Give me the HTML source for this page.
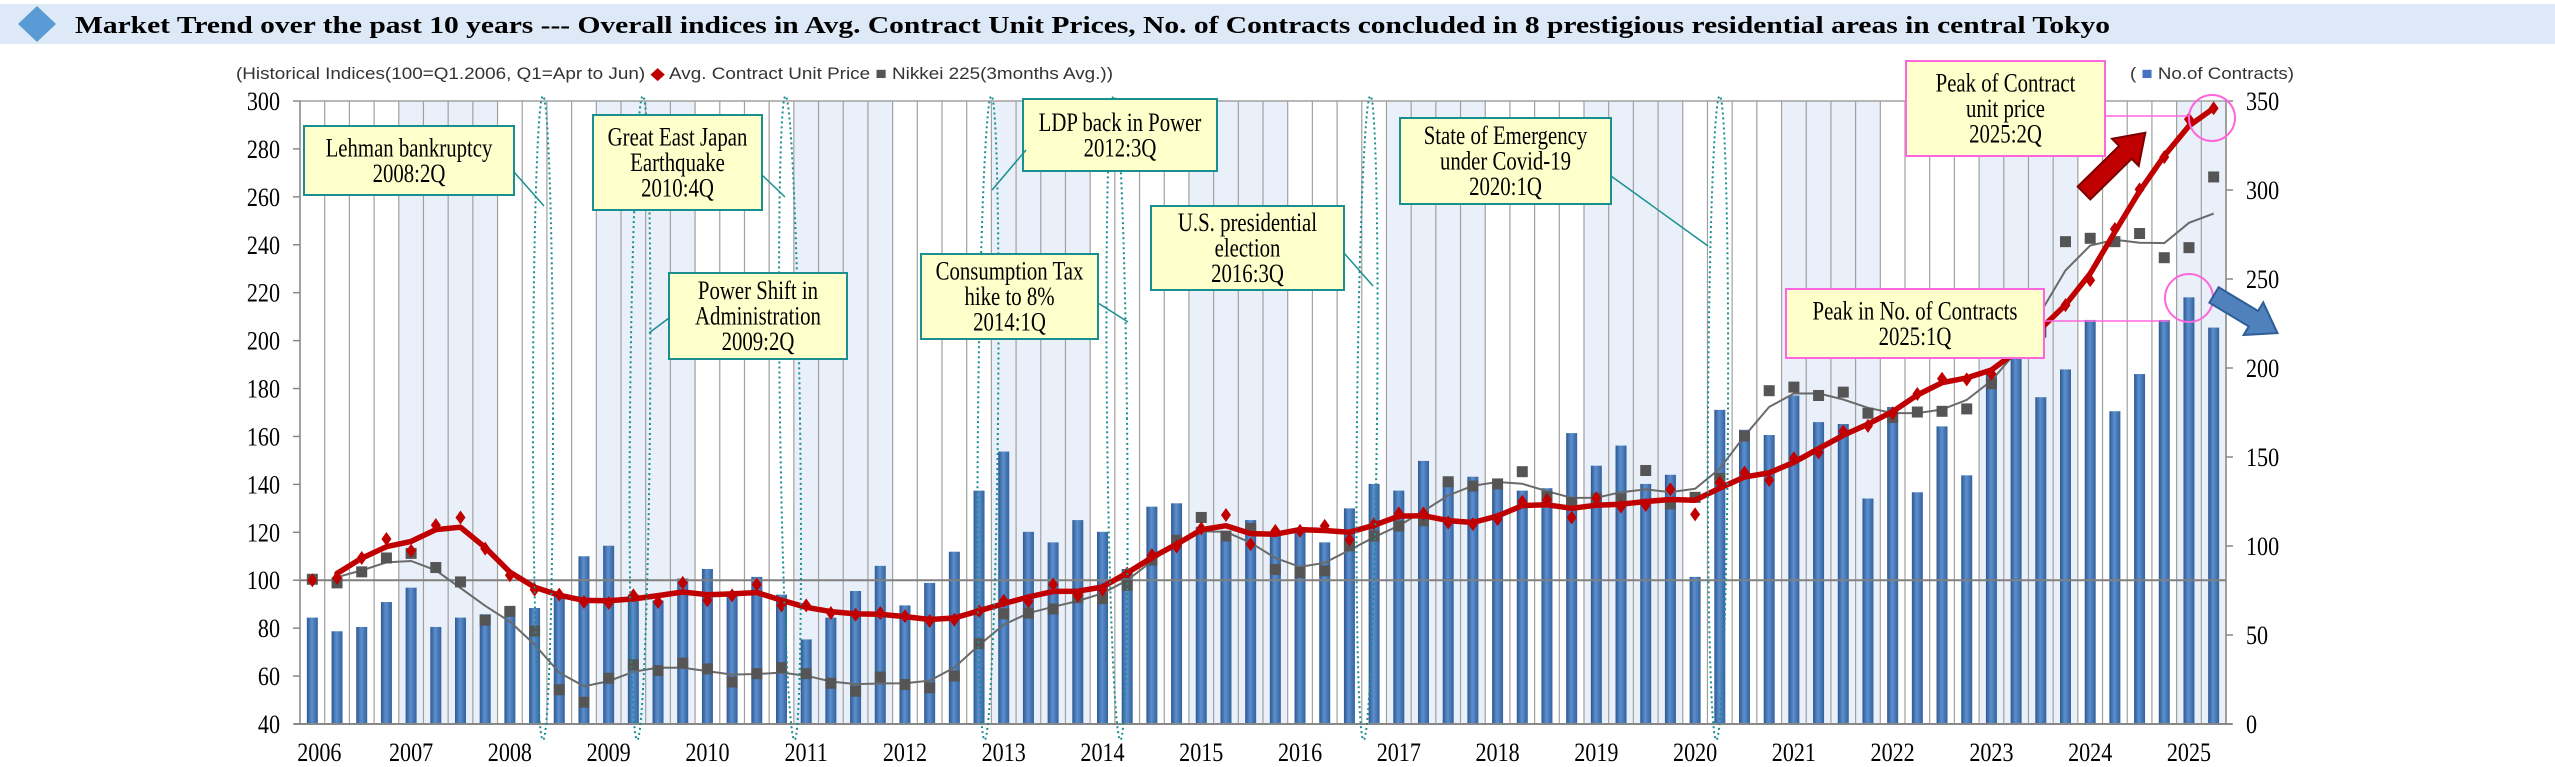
<!DOCTYPE html>
<html><head><meta charset="utf-8"><style>
html,body{margin:0;padding:0;background:#fff;}
svg{display:block;}
</style></head><body>
<svg id="s" xmlns="http://www.w3.org/2000/svg" width="2555" height="767" viewBox="0 0 2555 767">
<defs>
<linearGradient id="bg" x1="0" x2="1" y1="0" y2="0">
<stop offset="0" stop-color="#2c5890"/><stop offset="0.45" stop-color="#5d8fcf"/><stop offset="1" stop-color="#33629c"/>
</linearGradient>
</defs>
<rect x="0" y="4" width="2555" height="40" fill="#dde9f6"/>
<polygon points="37,6 56,24 37,42 18,24" fill="#5b9bd5"/>
<text x="75" y="33" font-family="Liberation Serif, serif" font-weight="bold" font-size="24" textLength="2035" lengthAdjust="spacingAndGlyphs" fill="#000">Market Trend over the past 10 years --- Overall indices in Avg. Contract Unit Prices, No. of Contracts concluded in 8 prestigious residential areas in central Tokyo</text>
<text x="236" y="79" font-family="Liberation Sans, sans-serif" font-size="17" textLength="877" lengthAdjust="spacingAndGlyphs" fill="#333">(Historical Indices(100=Q1.2006, Q1=Apr to Jun) <tspan fill="#c00000">◆</tspan> Avg. Contract Unit Price <tspan fill="#555">■</tspan> Nikkei 225(3months Avg.))</text>
<text x="2130" y="79" font-family="Liberation Sans, sans-serif" font-size="17" textLength="164" lengthAdjust="spacingAndGlyphs" fill="#333">( <tspan fill="#4472c4">■</tspan> No.of Contracts)</text>
<g id="g"></g>
</svg>
<script>
(function(){
var NS="http://www.w3.org/2000/svg",g=document.getElementById('g');
function el(t,a,txt){var e=document.createElementNS(NS,t);for(var k in a)e.setAttribute(k,a[k]);if(txt!==undefined)e.textContent=txt;g.appendChild(e);return e;}
var X0=300,X1=2226,Y0=724,YT=101,N=78,W=(X1-X0)/N;
function cx(i){return X0+(i+0.5)*W;}
function yl(v){return Y0-(v-40)*(Y0-YT)/260;}
function yr(v){return Y0-v*(Y0-YT)/350;}
for(var yr_=0;yr_<20;yr_++){ if(yr_%2==1){ var a=X0+yr_*4*W; var w=Math.min(4*W,X1-a); el('rect',{x:a,y:YT,width:w,height:Y0-YT,fill:'#eaf0f9'});}}
for(var i=0;i<=N;i++){el('line',{x1:X0+i*W,x2:X0+i*W,y1:YT,y2:Y0,stroke:'#a0a0a0','stroke-width':1.2});}
el('line',{x1:X0,x2:X1,y1:YT,y2:YT,stroke:'#a0a0a0','stroke-width':1.5});
var L=[84.4,78.7,80.5,90.9,96.9,80.5,84.4,85.8,89,88.4,94.4,110,114.4,94,91.6,100.7,104.7,94,101.4,94,75.3,84.4,95.5,106,89.5,98.9,111.9,137.4,153.7,120.2,115.8,125.1,120.2,104.7,130.7,132.1,122.3,116.7,125.1,119.5,121,115.8,130,140.2,137.4,149.8,141.8,143.2,139,137.4,138.4,161.4,147.8,156.2,140.2,144,101.4,171.1,162.8,160.6,177.1,166,165.2,134.1,172.3,136.7,164.2];
var B=L.map(function(v){return (v-40)*350/260;}).concat([139.7,196.6,205.7,183.6,199.2,227,175.7,196.6,227,239.7,222.7]);
for(var i=0;i<N;i++){var y=yr(B[i]);el('rect',{x:cx(i)-5.5,y:y,width:11,height:Y0-y,fill:'url(#bg)'});}
el('line',{x1:X0,x2:X1,y1:yl(100),y2:yl(100),stroke:'#808080','stroke-width':2});
el('line',{x1:X0-6,x2:X1+6,y1:Y0,y2:Y0,stroke:'#888','stroke-width':2});
el('line',{x1:X0,x2:X0,y1:YT,y2:Y0,stroke:'#888','stroke-width':1.5});
el('line',{x1:X1,x2:X1,y1:YT,y2:Y0,stroke:'#888','stroke-width':1.5});
function ctext(x,y,anchor,fs,t,sx){var e=el('text',{x:x,y:y,'text-anchor':anchor,'font-family':'Liberation Serif, serif','font-size':fs},t);e.setAttribute('transform','translate('+x+',0) scale('+sx+',1) translate('+(-x)+',0)');return e;}
for(var v=40;v<=300;v+=20){var y=yl(v);el('line',{x1:X0-7,x2:X0,y1:y,y2:y,stroke:'#888','stroke-width':1.5});ctext(X0-20,y+9,'end',26,String(v),0.85);}
for(var v=0;v<=350;v+=50){var y=yr(v);el('line',{x1:X1,x2:X1+7,y1:y,y2:y,stroke:'#888','stroke-width':1.5});ctext(X1+20,y+9,'start',26,String(v),0.85);}
for(var k=0;k<20;k++){ctext(cx(k*4)+(k==0?7:0),761,'middle',26,String(2006+k),0.85);}
var R=[100,101,109.3,117.2,112.3,123,126.2,113.2,102.1,96.1,94,90.9,90.5,93.7,90.9,98.9,91.6,93.7,98.2,89.5,89.5,86.3,85.6,86.3,85,83,83.5,87,91.4,91.2,98.2,93.7,96.1,102.8,110.5,114,121.6,127.2,115,120.6,120.6,122.7,117,123.4,127.9,127.9,124.1,123.4,125.5,132.8,133.5,126.2,134.2,130.7,131.4,137.9,127.5,140.7,144.9,141.8,150.9,153.3,162.1,164.4,169.7,177.7,184.1,183.8,186.1,195,205,214.8,225.2,246.6,263.1,276.6,292.4,297];
var G=[100.4,98.9,103.5,109.3,111.2,105.3,99.3,83.3,87,78.8,54.3,49.1,59.1,64.7,62.3,65.4,63,57.5,61,63.5,61,57,53.7,59.6,56.5,55.1,60,73.5,86,86.3,88,92.7,92.3,97.9,108.4,116.7,126.2,118.4,121.6,104.5,103.2,103.9,114.4,118.4,122.6,124.8,141.1,139.3,140.2,145.3,134.9,132.4,134.2,133.9,145.8,131.8,134.6,142.5,160.2,179.1,180.6,177.1,178.5,169.7,167.9,170.2,170.5,171.5,182,195,203.5,241.3,242.7,241.3,244.7,234.6,238.8,268.3];
function smooth(a){var o=[];for(var i=0;i<a.length;i++){if(i==0||i==a.length-1)o.push(a[i]);else o.push(0.25*a[i-1]+0.5*a[i]+0.25*a[i+1]);}return o;}
var Gs=smooth(smooth(G));Gs[N-1]=253;Gs[0]=100;
var Rs=smooth(R);Rs[N-1]=297;Rs[0]=100;
function pts(a){var p=[];for(var i=1;i<a.length;i++)p.push(cx(i).toFixed(1)+','+yl(a[i]).toFixed(1));return p.join(' ');}
el('polyline',{points:pts(Gs),fill:'none',stroke:'#6a6a6a','stroke-width':2});
for(var i=0;i<N;i++){var y=yl(G[i]);el('rect',{x:cx(i)-5.5,y:y-5.5,width:11,height:11,fill:'#555'});}
el('polyline',{points:pts(Rs),fill:'none',stroke:'#c00000','stroke-width':5.5,'stroke-linejoin':'round','stroke-linecap':'round'});
for(var i=0;i<N;i++){var x=cx(i),y=yl(R[i]);el('polygon',{points:x+','+(y-7)+' '+(x+5)+','+y+' '+x+','+(y+7)+' '+(x-5)+','+y,fill:'#c00000'});}
[[543,0],[640,0.5],[790,-0.8],[988,0.6],[1117,-0.6],[1367,0.6],[1718,0.3]].forEach(function(e){
el('ellipse',{cx:e[0],cy:418,rx:10,ry:322,fill:'none',stroke:'#1a8f8f','stroke-width':2,'stroke-dasharray':'2 3',transform:'rotate('+e[1]+' '+e[0]+' 418)'});});
function box(x,y,w,h,lines,col,lead,fs){el('rect',{x:x,y:y,width:w,height:h,fill:'#ffffcc',stroke:col,'stroke-width':2});
var lh=fs*0.98,ty=y+h/2-(lines.length-1)*lh/2+fs*0.33;
lines.forEach(function(t,j){ctext(x+w/2,ty+j*lh,'middle',fs,t,0.8);});
if(lead)el('line',{x1:lead[0],y1:lead[1],x2:lead[2],y2:lead[3],stroke:col,'stroke-width':1.5});}
var T='#1a8f8f';
box(304,126,210,69,['Lehman bankruptcy','2008:2Q'],T,[514,172,544,206],26);
box(593,115,169,95,['Great East Japan','Earthquake','2010:4Q'],T,[762,175,785,197],26);
box(669,273,178,86,['Power Shift in','Administration','2009:2Q'],T,[669,318,649,333],26);
box(921,254,177,85,['Consumption Tax','hike to 8%','2014:1Q'],T,[1098,303,1128,322],26);
box(1023,99,194,72,['LDP back in Power','2012:3Q'],T,[1026,150,992,190],26);
box(1151,206,193,84,['U.S. presidential','election','2016:3Q'],T,[1344,253,1373,286],26);
box(1400,118,211,86,['State of Emergency','under Covid-19','2020:1Q'],T,[1611,176,1708,246],26);
var P='#ff66dd';
box(1786,289,258,69,['Peak in No. of Contracts','2025:1Q'],P,[2044,321,2169,321],26);
box(1906,61,199,95,['Peak of Contract','unit price','2025:2Q'],P,[2105,116,2188,116],26);
el('circle',{cx:2189,cy:298,r:24,fill:'none',stroke:P,'stroke-width':2});
el('circle',{cx:2212,cy:118,r:23,fill:'none',stroke:P,'stroke-width':2});
function arrow(x,y,len,ang,fill,str){var s=9,h=19,hl=28;
el('polygon',{points:'0,'+(-s)+' '+(len-hl)+','+(-s)+' '+(len-hl)+','+(-h)+' '+len+',0 '+(len-hl)+','+h+' '+(len-hl)+','+s+' 0,'+s,fill:fill,stroke:str,'stroke-width':2,transform:'translate('+x+','+y+') rotate('+ang+')'});}
arrow(2084,193,86,-44.5,'#c00000','#7a0000');
arrow(2214,295,74,31,'#4f81bd','#2f5e97');
})();
</script>
</body></html>
